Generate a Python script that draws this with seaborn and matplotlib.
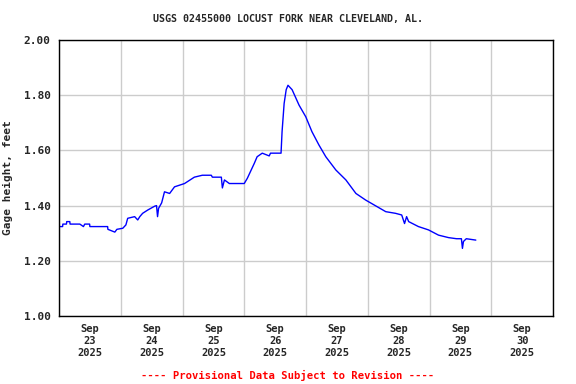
import pandas as pd
import numpy as np
import seaborn as sns
import matplotlib.pyplot as plt
import matplotlib.dates as mdates

# hours since 2025-09-23 00:00 and gage height (feet)
hours = [0, 1.4, 1.5, 2.9, 3.0, 4.2, 4.3, 8.1, 9.5, 10.0, 11.9, 12, 17, 18.9, 19,
         21.7, 22.5, 24.8, 26, 26.7, 29.4, 30.6, 31.4, 32.5, 34.5, 37.2, 37.9,
         38.3, 38.7, 39.9, 41, 43, 44.9, 48.8, 52.6, 55.7, 59.2, 59.6, 63.1,
         63.5, 64.3, 66.2, 72, 73.2, 75.9, 77, 79, 81.7, 82.2, 86.3, 86.7, 87.5,
         88.3, 89, 90.6, 93.3, 95.9, 98.3, 101, 103.7, 107.6, 111.5, 115.4,
         119.2, 123.1, 127, 130.8, 133.2, 134.3, 135.1, 135.9, 139.7, 143.6,
         147.5, 151.4, 154.5, 156.4, 156.8, 157.2, 158.3, 162]
height = [1.324, 1.324, 1.333, 1.333, 1.342, 1.342, 1.333, 1.333, 1.324, 1.333,
          1.333, 1.324, 1.324, 1.324, 1.314, 1.304, 1.314, 1.318, 1.33, 1.354,
          1.36, 1.348, 1.36, 1.372, 1.384, 1.398, 1.40, 1.36, 1.39, 1.41, 1.45,
          1.444, 1.468, 1.48, 1.503, 1.51, 1.51, 1.503, 1.503, 1.464, 1.493,
          1.48, 1.48, 1.499, 1.553, 1.577, 1.59, 1.58, 1.59, 1.59, 1.668, 1.77,
          1.82, 1.836, 1.82, 1.764, 1.722, 1.668, 1.62, 1.577, 1.529, 1.493,
          1.444, 1.42, 1.399, 1.378, 1.372, 1.366, 1.335, 1.36, 1.342, 1.324,
          1.312, 1.293, 1.284, 1.28, 1.28, 1.245, 1.27, 1.28, 1.275]

start = pd.Timestamp("2025-09-23")
df = pd.DataFrame({"time": start + pd.to_timedelta(hours, unit="h"),
                   "gage": height})

sns.set_style("white")
plt.rcParams["font.family"] = ["DejaVu Sans Mono", "DejaVu Sans"]
plt.rcParams["font.weight"] = "bold"

fig = plt.figure(figsize=(5.76, 3.84), dpi=100)
ax = fig.add_axes([59 / 576, 1 - 316 / 384, 494 / 576, 276 / 384])

sns.lineplot(data=df, x="time", y="gage", ax=ax, color="#0000ff",
             linewidth=1.0)

ax.set_xlim(start, start + pd.Timedelta(days=8))
ax.set_ylim(1.0, 2.0)
ax.set_yticks(np.arange(1.0, 2.01, 0.2))
ax.set_yticklabels([f"{v:.2f}" for v in np.arange(1.0, 2.01, 0.2)],
                   fontsize=8, fontweight="bold")

ax.xaxis.set_major_locator(mdates.DayLocator())
ax.xaxis.set_major_formatter(plt.NullFormatter())
ax.xaxis.set_minor_locator(mdates.HourLocator(byhour=12))
ax.xaxis.set_minor_formatter(mdates.DateFormatter("%b\n%d\n%Y"))
ax.tick_params(axis="x", which="both", length=0, pad=6)
ax.tick_params(axis="y", length=0, pad=6)
for lbl in ax.get_xticklabels(minor=True):
    lbl.set_fontsize(7.5)
    lbl.set_fontweight("bold")

ax.grid(True, which="major", color="#cccccc", linewidth=1)
for s in ax.spines.values():
    s.set_color("black")
    s.set_linewidth(1)

ax.set_xlabel("")
ax.set_ylabel("Gage height, feet", fontsize=8, fontweight="bold", labelpad=8)
fig.text(0.5, 1 - 19 / 384, "USGS 02455000 LOCUST FORK NEAR CLEVELAND, AL.",
         ha="center", va="center", fontsize=7.2, fontweight="bold")
fig.text(0.5, 1 - 375 / 384, "---- Provisional Data Subject to Revision ----",
         ha="center", va="center", fontsize=7.6, fontweight="bold", color="red")

fig.savefig("out.png", dpi=100)
